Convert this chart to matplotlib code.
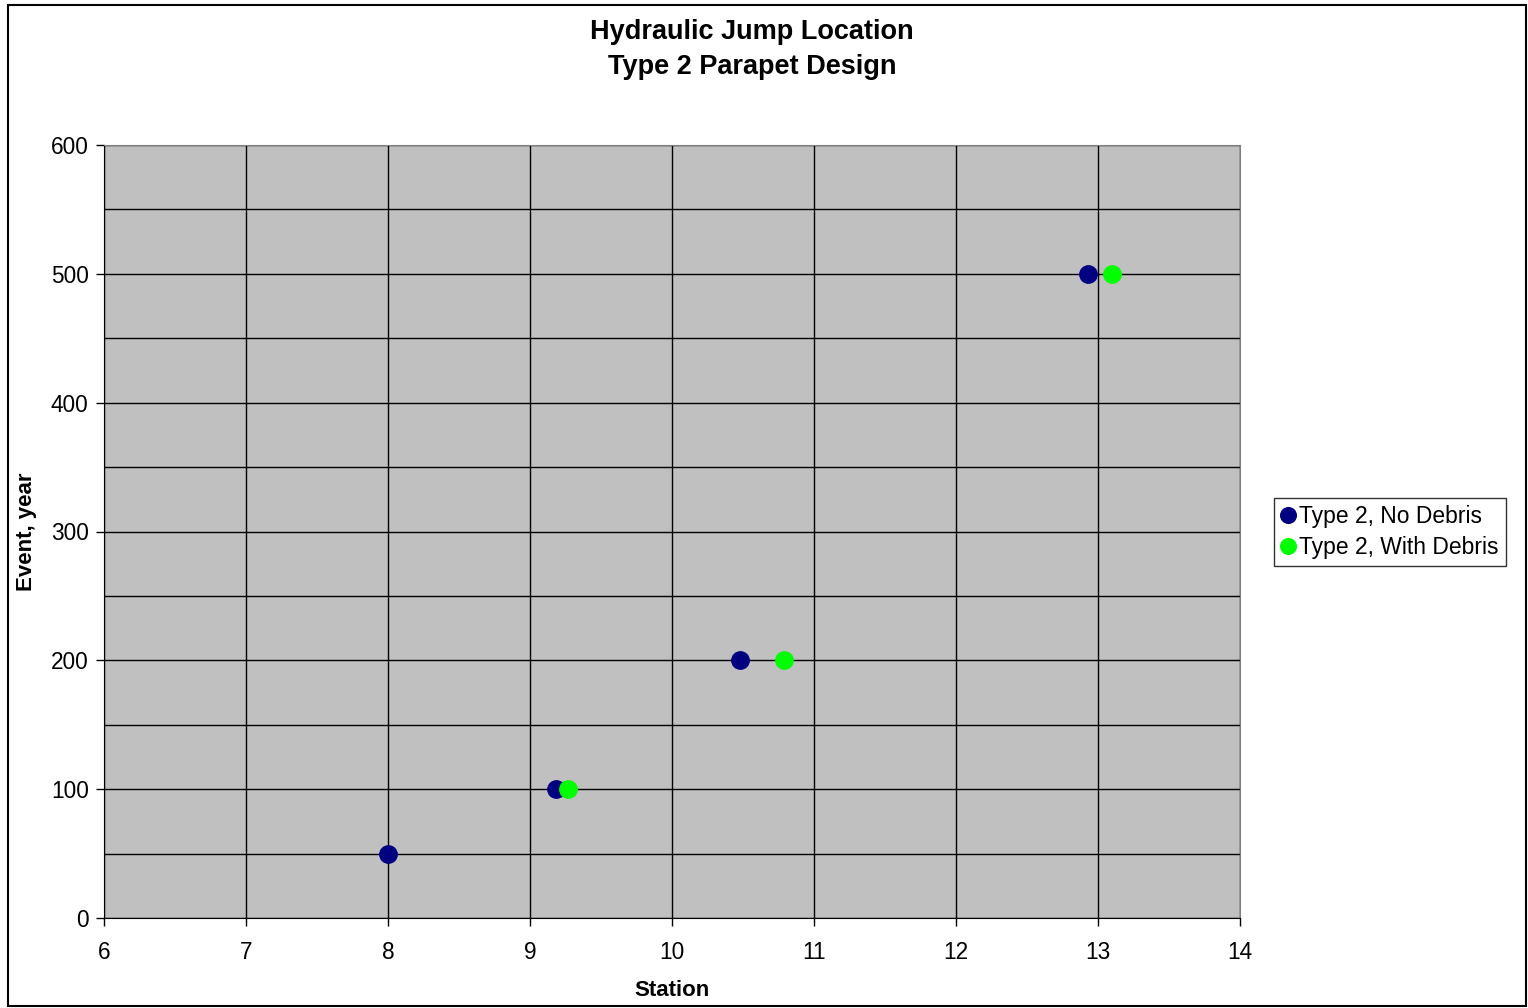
import matplotlib
matplotlib.use("Agg")
import matplotlib.pyplot as plt
from matplotlib.ticker import MultipleLocator
from matplotlib.patches import Rectangle

plt.rcParams['font.family'] = ['Liberation Sans', 'DejaVu Sans']

no_debris_x = [8.0, 9.18, 10.48, 12.93]
no_debris_y = [50, 100, 200, 500]
with_debris_x = [9.27, 10.79, 13.1]
with_debris_y = [100, 200, 500]
series_names = ["Type 2, No Debris", "Type 2, With Debris"]

fig = plt.figure(figsize=(15.28, 10.08), dpi=100)
fig.patches.append(Rectangle((8/1528, 2/1008), 1518/1528, 1001/1008, transform=fig.transFigure,
                             fill=False, edgecolor='black', linewidth=1.5))
ax = fig.add_axes([104/1528, 90/1008, 1136/1528, 773/1008])
ax.set_facecolor('#C0C0C0')

ax.plot(no_debris_x, no_debris_y, 'o', color='#000080', markersize=12.5, linestyle='none',
        label=series_names[0], zorder=3)
ax.plot(with_debris_x, with_debris_y, 'o', color='#00FF00', markersize=12.5, linestyle='none',
        label=series_names[1], zorder=3)

ax.set_xlim(6, 14)
ax.set_ylim(0, 600)
ax.xaxis.set_major_locator(MultipleLocator(1))
ax.yaxis.set_major_locator(MultipleLocator(100))
ax.yaxis.set_minor_locator(MultipleLocator(50))
ax.grid(True, which='major', color='black', linewidth=1)
ax.grid(True, which='minor', axis='y', color='black', linewidth=1)
ax.set_axisbelow(True)
ax.tick_params(axis='x', which='major', direction='out', length=6, width=1,
               labelsize=16.3, pad=10.5)
ax.tick_params(axis='y', which='major', direction='out', length=6, width=1,
               labelsize=16.3, pad=5)
ax.tick_params(axis='y', which='minor', length=0)
for s in ['top', 'right']:
    ax.spines[s].set_color('#808080')
for s in ['left', 'bottom']:
    ax.spines[s].set_color('black')

ax.set_xlabel('Station', fontsize=16, fontweight='bold', va='center')
ax.set_ylabel('Event, year', fontsize=16, fontweight='bold', va='center')
ax.xaxis.set_label_coords(0.5, (918 - 991) / 773)
ax.yaxis.set_label_coords((27 - 104) / 1136, 0.5)

fig.text(752/1528, 1 - 32/1008, 'Hydraulic Jump Location', ha='center', va='center',
         fontsize=19.5, fontweight='bold')
fig.text(752/1528, 1 - 67/1008, 'Type 2 Parapet Design', ha='center', va='center',
         fontsize=19.5, fontweight='bold')

leg = fig.legend(loc='center left', bbox_to_anchor=(1274/1528, 1 - 532/1008), fontsize=16.5,
                 frameon=True, fancybox=False, edgecolor='black', handlelength=0.6,
                 handletextpad=0.2, borderpad=0.3, labelspacing=0.35, borderaxespad=0,
                 markerscale=0.9)
leg.get_frame().set_linewidth(1)

fig.savefig('out.png', dpi=100)
